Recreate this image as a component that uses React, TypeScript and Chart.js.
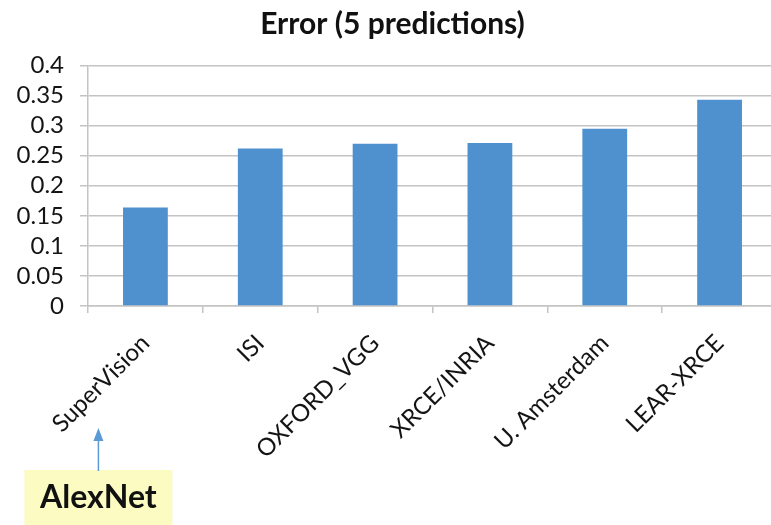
import React, { useEffect, useRef } from "react";
import { Chart, registerables } from "chart.js";

Chart.register(...registerables);

const categories = ["SuperVision", "ISI", "OXFORD_VGG", "XRCE/INRIA", "U. Amsterdam", "LEAR-XRCE"];
const errorValues = [0.164, 0.262, 0.27, 0.271, 0.295, 0.343];
const yTickValues = [0, 0.05, 0.1, 0.15, 0.2, 0.25, 0.3, 0.35, 0.4];
const yTickLabels = ["0", "0.05", "0.1", "0.15", "0.2", "0.25", "0.3", "0.35", "0.4"];
const titleText = "Error (5 predictions)";
const annotationText = "AlexNet";

const FONT = "Lato, 'Open Sans', sans-serif";
const GRID = "#c4c4c4";

const annotationPlugin = {
  id: "alexnetNote",
  afterDraw(chart: any) {
    const ctx = chart.ctx as CanvasRenderingContext2D;
    const xs = chart.scales.x;
    const ax = xs.getPixelForValue(0) - 47;
    const boxW = 148;
    const boxTop = 470;
    ctx.save();
    ctx.fillStyle = "#fbfbc2";
    ctx.fillRect(ax - boxW / 2, boxTop, boxW, 60);
    ctx.fillStyle = "#111111";
    ctx.font = `bold 32px ${FONT}`;
    ctx.textAlign = "center";
    ctx.textBaseline = "middle";
    ctx.fillText(annotationText, ax, boxTop + 28);
    ctx.strokeStyle = "#5b9bd5";
    ctx.fillStyle = "#5b9bd5";
    ctx.lineWidth = 1.5;
    ctx.beginPath();
    ctx.moveTo(ax, boxTop + 1);
    ctx.lineTo(ax, 436);
    ctx.stroke();
    ctx.beginPath();
    ctx.moveTo(ax, 428);
    ctx.lineTo(ax - 5, 441);
    ctx.lineTo(ax + 5, 441);
    ctx.closePath();
    ctx.fill();
    ctx.restore();
  },
};

export default function App() {
  const canvasRef = useRef<HTMLCanvasElement | null>(null);

  useEffect(() => {
    if (!canvasRef.current) return;
    const chart = new Chart(canvasRef.current, {
      type: "bar",
      data: {
        labels: categories,
        datasets: [
          {
            label: titleText,
            data: errorValues,
            backgroundColor: "#4f91cf",
            borderWidth: 0,
            categoryPercentage: 1,
            barPercentage: 0.39,
          },
        ],
      },
      options: {
        responsive: false,
        animation: false,
        devicePixelRatio: window.devicePixelRatio || 1,
        layout: { padding: { left: 8, right: 23, top: 0, bottom: 0 } },
        plugins: {
          legend: { display: false },
          tooltip: { enabled: false },
          title: {
            display: true,
            text: titleText,
            color: "#111111",
            font: { family: FONT, size: 30, weight: "bold", lineHeight: 1.2 },
            padding: { top: 6, bottom: 23.5 },
          },
        },
        scales: {
          x: {
            afterFit: (axis: any) => {
              axis.height = 219;
            },
            grid: {
              offset: true,
              drawOnChartArea: false,
              drawTicks: true,
              tickLength: 7,
              color: GRID,
              lineWidth: 1.5,
            },
            border: { display: true, color: GRID, width: 1.5 },
            ticks: {
              autoSkip: false,
              minRotation: 45,
              maxRotation: 45,
              color: "#141414",
              padding: 16,
              font: { family: FONT, size: 24 },
            },
          },
          y: {
            min: 0,
            max: 0.4,
            afterFit: (axis: any) => {
              axis.width = 80;
            },
            afterBuildTicks: (axis: any) => {
              axis.ticks = yTickValues.map((v) => ({ value: v }));
            },
            grid: {
              color: GRID,
              lineWidth: 1.5,
              drawTicks: true,
              tickLength: 8,
            },
            border: { display: true, color: GRID, width: 1.5 },
            ticks: {
              autoSkip: false,
              color: "#141414",
              padding: 16,
              font: { family: FONT, size: 24, lineHeight: 1 },
              callback: (_v: any, i: number) => yTickLabels[i],
            },
          },
        },
      },
      plugins: [annotationPlugin],
    });
    return () => chart.destroy();
  }, []);

  return (
    <div
      style={{
        position: "fixed",
        left: 0,
        top: 0,
        width: 771,
        height: 525,
        overflow: "hidden",
        background: "#ffffff",
      }}
    >
      <canvas ref={canvasRef} width={800} height={525} style={{ width: 800, height: 525, display: "block" }} />
    </div>
  );
}
